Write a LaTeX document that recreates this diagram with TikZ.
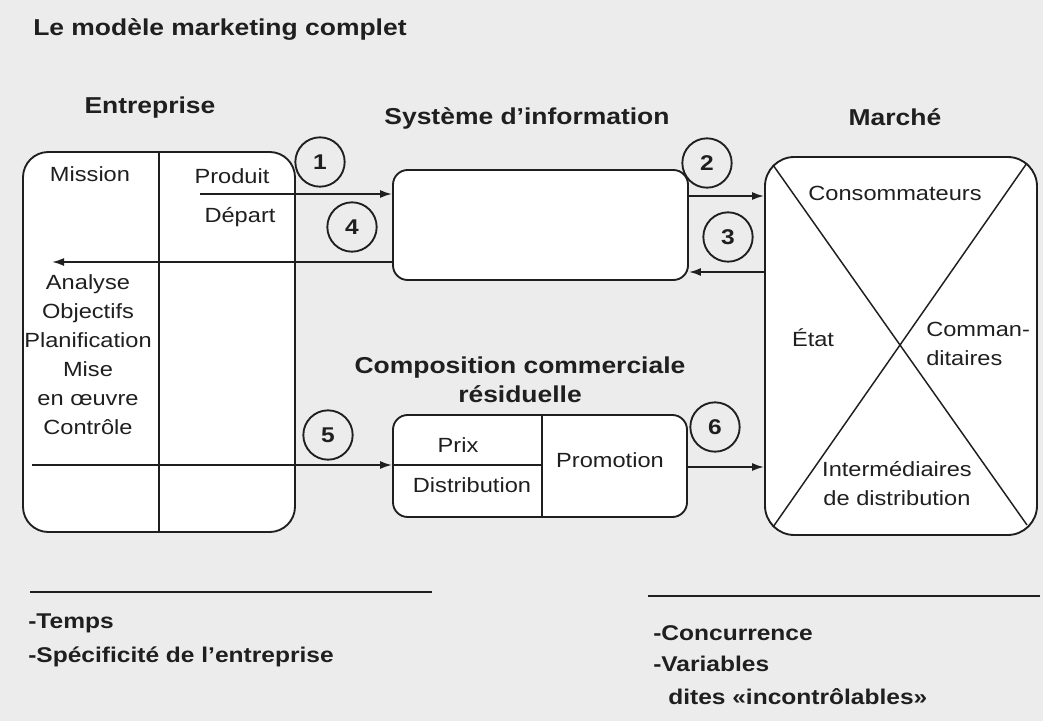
\documentclass[tikz,border=0pt]{standalone}
\usepackage{fontspec}
\setmainfont{Liberation Sans}[FakeStretch=1.15]
\usetikzlibrary{arrows.meta,calc}
\definecolor{bg}{gray}{0.925}
\definecolor{ink}{gray}{0.12}
\tikzset{
  boxstyle/.style={draw=ink,line width=1.4pt,fill=white,inner sep=0pt},
  lbl/.style={font=\fontsize{15.4pt}{21.75pt}\selectfont,text=ink,inner sep=0pt},
  head/.style={font=\bfseries\fontsize{17.25pt}{21.75pt}\selectfont,text=ink,inner sep=0pt},
  note/.style={font=\bfseries\fontsize{16pt}{20pt}\selectfont,text=ink,inner sep=0pt,anchor=west},
  num/.style={circle,draw=ink,line width=1.4pt,fill=bg,minimum size=37pt,inner sep=0pt,
    font=\bfseries\fontsize{16pt}{18pt}\selectfont,text=ink},
  flow/.style={draw=ink,line width=1.4pt,-{Latex[length=9pt,width=6pt]}},
  rule/.style={draw=ink,line width=1.1pt},
  sep/.style={draw=ink,line width=2.2pt}
}
\begin{document}
\begin{tikzpicture}[x=0.75pt,y=-0.75pt]
\fill[bg] (0,0) rectangle (1043,721);
\useasboundingbox (0,0) rectangle (1043,721);

% title
\node[head,anchor=west] (title) at (33,30) {Le modèle marketing complet};

% boxes
\node[boxstyle,rounded corners=19pt,minimum width=204pt,minimum height=285pt] (ent) at (159,342) {};
\node[boxstyle,rounded corners=11pt,minimum width=221.25pt,minimum height=82.5pt] (si) at (540.5,225) {};
\node[boxstyle,rounded corners=11pt,minimum width=220.5pt,minimum height=76.5pt] (comp) at (540,466) {};
\node[boxstyle,rounded corners=22pt,minimum width=204pt,minimum height=283.5pt] (mkt) at (901,346) {};

% internal lines
\draw[rule] (ent.north) -- (ent.south);
\coordinate (cdiv) at (542,466);
\draw[rule] (cdiv |- comp.north) -- (cdiv |- comp.south);
\coordinate (ch) at (542,465);
\draw[rule] (ch -| comp.west) -- (ch);
\coordinate (x1a) at (773,165);
\coordinate (x1b) at (1027,525);
\coordinate (x2a) at (1027,163);
\coordinate (x2b) at (773,527);
\draw[rule] (x1a) -- (x1b);
\draw[rule] (x2a) -- (x2b);

% headers
\node[head] (hent) at (150,108) {Entreprise};
\node[head] (hsi) at (527,118) {Système d'information};
\node[head,align=center] (hcomp) at (520,380) {Composition commerciale\\résiduelle};
\node[head] (hmkt) at (895,117) {Marché};

% labels in Entreprise
\node[lbl] (mission) at (90,174) {Mission};
\node[lbl] (produit) at (232,176) {Produit};
\node[lbl] (depart) at (240,217) {Départ};
\node[lbl,align=center] (steps) at (88,355) {Analyse\\Objectifs\\Planification\\Mise\\en œuvre\\Contrôle};

% labels in composition
\node[lbl] (prix) at (458,445) {Prix};
\node[lbl] (distr) at (472,485) {Distribution};
\node[lbl] (promo) at (610,460) {Promotion};

% labels in market
\node[lbl] (conso) at (895,193) {Consommateurs};
\node[lbl] (etat) at (813,338) {État};
\node[lbl,anchor=west,align=left] (comm) at (926,344) {Comman-\\ditaires};
\node[lbl,align=center] (inter) at (897,484) {Intermédiaires\\de distribution};

% flows
\coordinate (a1) at (200,194);
\draw[flow] (a1) -- (a1 -| si.west);
\coordinate (a4) at (52,262);
\draw[flow] (a4 -| si.west) -- (a4);
\coordinate (a2) at (720,196);
\draw[flow] (a2 -| si.east) -- (a2 -| mkt.west);
\coordinate (a3) at (720,272);
\draw[flow] (a3 -| mkt.west) -- (a3 -| si.east);
\coordinate (a5) at (32,465);
\draw[flow] (a5) -- (a5 -| comp.west);
\coordinate (a6) at (720,467);
\draw[flow] (a6 -| comp.east) -- (a6 -| mkt.west);

% numbers
\node[num] (n1) at (320,162) {1};
\node[num] (n4) at (352,227) {4};
\node[num] (n2) at (707,163) {2};
\node[num] (n3) at (728,237) {3};
\node[num] (n5) at (328,435) {5};
\node[num] (n6) at (715,427) {6};

% bottom
\coordinate (l1a) at (30,592);
\coordinate (l1b) at (432,592);
\draw[sep] (l1a) -- (l1b);
\coordinate (l2a) at (648,596);
\coordinate (l2b) at (1040,596);
\draw[sep] (l2a) -- (l2b);
\node[note] (temps) at (28,623) {-Temps};
\node[note] (spec) at (28,657) {-Spécificité de l'entreprise};
\node[note] (conc) at (653,633) {-Concurrence};
\node[note] (var) at (653,664) {-Variables};
\node[note] (dites) at (668,697) {dites «incontrôlables»};
\end{tikzpicture}
\end{document}
